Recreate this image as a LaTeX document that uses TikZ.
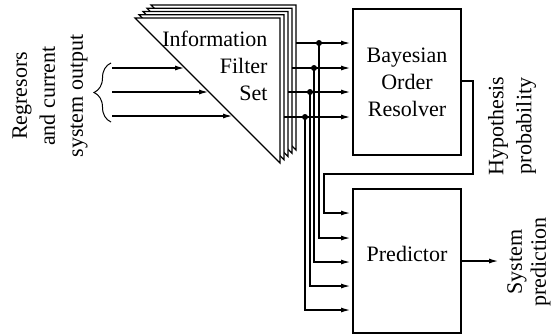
\documentclass[tikz,border=0pt]{standalone}
\usepackage{fontspec}
\setmainfont{Liberation Serif}
\usetikzlibrary{arrows.meta,decorations.pathreplacing}
\begin{document}
\begin{tikzpicture}[x=1pt,y=-1pt,
  line width=1.1pt,
  arr/.style={-{Latex[length=9pt,width=5pt]}},
  box/.style={draw, minimum width=108pt, minimum height=146pt, inner sep=0pt, align=center, font=\fontsize{22}{27}\selectfont},
  lbl/.style={rotate=90, align=center, inner sep=0pt, font=\fontsize{22}{28}\selectfont},
  jdot/.style={circle, fill, inner sep=0pt, minimum size=6pt},
  tri/.style={draw, fill=white, line join=miter}]
\useasboundingbox (0,0) rectangle (553,335);

% stacked information filter set
\foreach \k in {4,3,2,1,0}
  \draw[tri, shift={(4*\k,-3.25*\k)}] (135,18) -- (280,18) -- (280,163) -- cycle;
\node[anchor=north east, align=right, inner sep=0pt, font=\fontsize{22}{27}\selectfont] (ifs) at (268,30) {Information\\Filter\\Set};

% boxes
\node[box] (bor) at (407,82) {Bayesian\\Order\\Resolver};
\node[box, minimum height=144pt, text height=8pt, text depth=8pt] (pred) at (407,261) {Predictor};

% labels
\node[lbl] (reg) at (50,96) {Regresors\\and current\\system output};
\node[lbl] (hyp) at (512,126) {Hypothesis\\probability};
\node[lbl, font=\fontsize{22}{24}\selectfont] (sys) at (529,262) {System\\prediction};

% inputs
\draw[decorate, decoration={brace, amplitude=17pt}, line width=1pt] (111,122) -- (111,63);
\coordinate (in1) at (112,68);  \coordinate (t1) at (184,68);
\coordinate (in2) at (112,92);  \coordinate (t2) at (208,92);
\coordinate (in3) at (112,116); \coordinate (t3) at (232,116);
\draw[arr] (in1) -- (t1);
\draw[arr] (in2) -- (t2);
\draw[arr] (in3) -- (t3);

% outputs of filter set
\coordinate (o1) at (296,43);
\coordinate (o2) at (292,68);
\coordinate (o3) at (288,92);
\coordinate (o4) at (284,117);
\coordinate (b1) at (350,43);
\coordinate (b2) at (350,68);
\coordinate (b3) at (350,92);
\coordinate (b4) at (350,117);
\draw[arr] (o1) -- (b1);
\draw[arr] (o2) -- (b2);
\draw[arr] (o3) -- (b3);
\draw[arr] (o4) -- (b4);

% predictor inputs
\coordinate (p0) at (350,213);
\coordinate (p1) at (350,238);
\coordinate (p2) at (350,262);
\coordinate (p3) at (350,286);
\coordinate (p4) at (350,310);

\node[jdot] (j1) at (319,43) {};
\node[jdot] (j2) at (314,68) {};
\node[jdot] (j3) at (310,92) {};
\node[jdot] (j4) at (305,117) {};

\draw[arr] (j1.center) |- (p1);
\draw[arr] (j2.center) |- (p2);
\draw[arr] (j3.center) |- (p3);
\draw[arr] (j4.center) |- (p4);

% hypothesis probability feedback
\coordinate (h1) at (473,81);
\coordinate (h2) at (324,174);
\draw[arr] (bor.east |- h1) -- (h1) |- (h2) |- (p0);

% system prediction
\coordinate (sp) at (498,261);
\draw[arr] (pred.east) -- (sp);
\end{tikzpicture}
\end{document}
